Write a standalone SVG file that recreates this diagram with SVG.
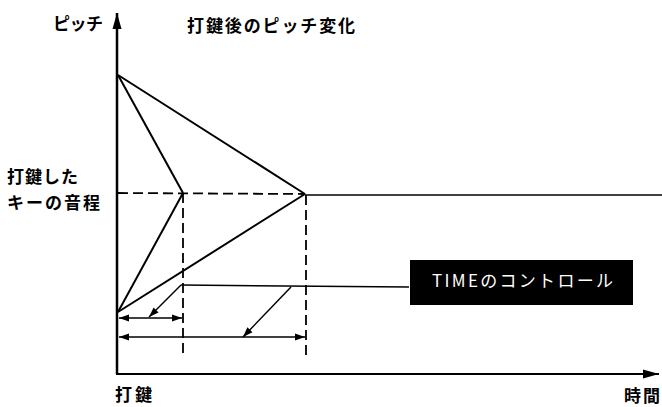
<svg xmlns="http://www.w3.org/2000/svg" width="662" height="407" viewBox="0 0 662 407">
<defs>
<style>
.t{font-family:"Noto Sans CJK JP","Noto Sans",sans-serif;font-size:17px;font-weight:bold;fill:#000}
.ln{stroke:#000;stroke-width:2;fill:none}
.th{stroke:#000;stroke-width:1.5;fill:none}
.ds{stroke:#000;stroke-width:1.8;fill:none;stroke-dasharray:10 5}
</style>
<marker id="ah" viewBox="0 0 10 10" refX="10" refY="5" markerWidth="10" markerHeight="10" markerUnits="userSpaceOnUse" orient="auto-start-reverse">
<path d="M0,1.5 L10,5 L0,8.5 Z" fill="#000"/>
</marker>
<marker id="ax" viewBox="0 0 16 10" refX="16" refY="5" markerWidth="16" markerHeight="10" markerUnits="userSpaceOnUse" orient="auto">
<path d="M0,0.5 L16,5 L0,9.5 Z" fill="#000"/>
</marker>
</defs>
<rect width="662" height="407" fill="#fff"/>
<g id="axes">
<line class="ln" x1="117" y1="374" x2="117" y2="13" marker-end="url(#ax)" style="stroke-width:2.5"/>
<line class="ln" x1="116" y1="374" x2="659" y2="374" marker-end="url(#ax)"/>
</g>
<g id="connectors">
<line class="ln" x1="118" y1="75" x2="183" y2="193"/>
<line class="ln" x1="118" y1="75" x2="305" y2="194"/>
<line class="ln" x1="118" y1="312" x2="183" y2="193"/>
<line class="ln" x1="118" y1="312" x2="305" y2="194"/>
<line class="ds" x1="118" y1="193" x2="305" y2="194"/>
<line class="th" x1="305" y1="195" x2="662" y2="195"/>
<line class="ds" x1="183" y1="193" x2="183" y2="356"/>
<line class="ds" x1="306" y1="195" x2="306" y2="356"/>
<line class="th" x1="119" y1="318" x2="182" y2="318" marker-start="url(#ah)" marker-end="url(#ah)"/>
<line class="th" x1="119" y1="337" x2="305" y2="337" marker-start="url(#ah)" marker-end="url(#ah)"/>
<polyline class="th" points="181,285 409,287"/>
<line class="th" x1="181" y1="285" x2="149" y2="317" marker-end="url(#ah)"/>
<line class="th" x1="291" y1="287" x2="243" y2="337" marker-end="url(#ah)"/>
</g>
<g id="title"><text class="t" x="187" y="32" textLength="168" lengthAdjust="spacing">打鍵後のピッチ変化</text></g>
<g id="ylabel"><text class="t" x="53" y="30" textLength="50" lengthAdjust="spacing">ピッチ</text></g>
<g id="pitch-label">
<text class="t" x="7" y="183" textLength="71" lengthAdjust="spacing">打鍵した</text>
<text class="t" x="7" y="209" textLength="93" lengthAdjust="spacing">キーの音程</text>
</g>
<g id="xlabel-start"><text class="t" x="115" y="401" textLength="37" lengthAdjust="spacing">打鍵</text></g>
<g id="xlabel-end"><text class="t" x="624" y="402" textLength="36" lengthAdjust="spacing">時間</text></g>
<g id="time-control">
<rect x="410" y="260" width="223" height="45" fill="#000"/>
<text class="t" x="432" y="287" textLength="181" lengthAdjust="spacing" style="fill:#fff;font-weight:normal;font-size:17px">TIMEのコントロール</text>
</g>
</svg>
